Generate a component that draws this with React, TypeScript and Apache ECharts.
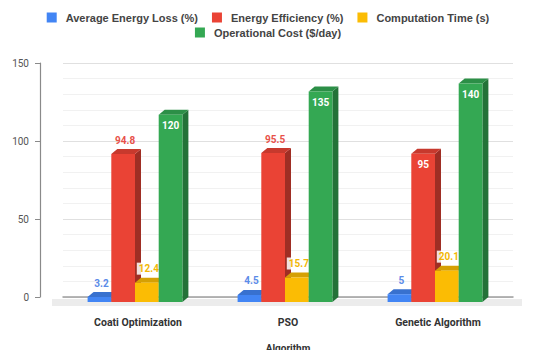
import React, { useEffect, useRef } from "react";
import * as echarts from "echarts";

const categories = ["Coati Optimization", "PSO", "Genetic Algorithm"];
const seriesNames = [
  "Average Energy Loss (%)",
  "Energy Efficiency (%)",
  "Computation Time (s)",
  "Operational Cost ($/day)",
];
const avgEnergyLoss = [3.2, 4.5, 5];
const energyEfficiency = [94.8, 95.5, 95];
const computationTime = [12.4, 15.7, 20.1];
const operationalCost = [120, 135, 140];

const colors = ["#4285F4", "#EA4335", "#FBBC04", "#34A853"];
const labelColors = ["#5b8be8", "#e8514a", "#f2b705", "#ffffff"];
// where each series' value label sits: "above" the bar or "inside" its top
const labelPlacement = [
  ["above", "above", "above"],
  ["above", "above", "inside"],
  ["above", "above", "above"],
  ["inside", "inside", "inside"],
];

const DX = 6; // depth of the 3D extrusion, horizontal
const DY = 5; // depth of the 3D extrusion, vertical
const FONT = "Roboto, 'Noto Sans', sans-serif";
const LEGEND_FONT = "'Liberation Sans', Arial, sans-serif";

function shade(hex: string, f: number) {
  const n = parseInt(hex.slice(1), 16);
  const r = Math.round(((n >> 16) & 255) * f);
  const g = Math.round(((n >> 8) & 255) * f);
  const b = Math.round((n & 255) * f);
  return `rgb(${r},${g},${b})`;
}

function makeSeries(idx: number, values: number[]) {
  const color = colors[idx];
  return {
    type: "custom",
    name: seriesNames[idx],
    itemStyle: { color },
    data: values.map((v, i) => [i, v]),
    z: 2 + idx,
    renderItem: (params: any, api: any) => {
      const ci = api.value(0);
      const v = api.value(1);
      const [cx, yv] = api.coord([ci, v]);
      const y0 = api.coord([ci, 0])[1];
      const bw = api.size([1, 0])[0];
      const barW = bw * 0.158;
      const fx0 = cx - 2 * barW + idx * barW - DX / 2;
      const fx1 = fx0 + barW;
      const fTop = yv + DY;
      const fBot = y0 + DY;
      const isInside = labelPlacement[idx][ci] === "inside";
      const children: any[] = [
        {
          type: "polygon",
          shape: {
            points: [
              [fx1, fTop],
              [fx1 + DX, fTop - DY],
              [fx1 + DX, fBot - DY],
              [fx1, fBot],
            ],
          },
          style: { fill: shade(color, 0.68) },
        },
        {
          type: "polygon",
          shape: {
            points: [
              [fx0, fTop],
              [fx0 + DX, fTop - DY],
              [fx1 + DX, fTop - DY],
              [fx1, fTop],
            ],
          },
          style: { fill: shade(color, 0.85) },
        },
        {
          type: "rect",
          shape: { x: fx0, y: fTop, width: barW, height: Math.max(fBot - fTop, 0) },
          style: { fill: color },
        },
        {
          type: "text",
          z2: 10,
          style: {
            x: (fx0 + fx1) / 2 + (isInside ? 0 : 2),
            y: isInside ? fTop + 11 : fTop - DY - 9,
            text: String(v),
            align: "center",
            verticalAlign: "middle",
            fill: isInside ? "#ffffff" : labelColors[idx],
            font: `bold 10px ${FONT}`,
            backgroundColor: idx === 2 ? "rgba(255,255,255,0.85)" : undefined,
            padding: idx === 2 ? [1, 2] : 0,
          },
        },
      ];
      return { type: "group", children };
    },
  };
}

export default function App() {
  const ref = useRef<HTMLDivElement>(null);

  useEffect(() => {
    if (!ref.current) return;
    const chart = echarts.init(ref.current, null, { renderer: "svg" });
    const legendText = {
      fontSize: 11,
      fontWeight: "bold",
      color: "#444",
      fontFamily: LEGEND_FONT,
      padding: [0, 0, 0, 4],
    };
    const legendBase = {
      left: "center",
      padding: 0,
      itemWidth: 10,
      itemHeight: 10,
      itemGap: 14,
      icon: "rect",
      textStyle: legendText,
    };
    chart.setOption({
      animation: false,
      backgroundColor: "#ffffff",
      legend: [
        { ...legendBase, data: seriesNames.slice(0, 3), top: 12 },
        { ...legendBase, data: seriesNames.slice(3), top: 27 },
      ],
      grid: { left: 63, right: 23, top: 63, bottom: 59 },
      xAxis: {
        type: "category",
        data: categories,
        name: "Algorithm",
        nameLocation: "middle",
        nameGap: 46,
        nameTextStyle: { fontSize: 10, fontWeight: "bold", color: "#333", fontFamily: FONT },
        axisLine: { lineStyle: { color: "#9e9e9e", width: 1.5 } },
        axisTick: { show: false },
        axisLabel: { margin: 20, fontSize: 10.5, fontWeight: "bold", color: "#333", fontFamily: FONT },
      },
      yAxis: {
        type: "value",
        min: 0,
        max: 150,
        interval: 50,
        offset: 23,
        axisLine: { show: true, lineStyle: { color: "#8a8a8a", width: 1.2 } },
        axisTick: { show: true, inside: false, length: 5, lineStyle: { color: "#8a8a8a" } },
        axisLabel: { margin: 11, fontSize: 10, color: "#555", fontFamily: FONT },
        splitLine: { lineStyle: { color: "#e0e0e0" } },
        minorTick: { show: false, splitNumber: 5 },
        minorSplitLine: { show: true, lineStyle: { color: "#f1f1f1" } },
      },
      graphic: [
        {
          type: "rect",
          left: 52,
          top: 299,
          shape: { width: 470, height: 7 },
          style: { fill: "#ececec" },
          z: 0,
        },
      ],
      series: [
        makeSeries(0, avgEnergyLoss),
        makeSeries(1, energyEfficiency),
        makeSeries(2, computationTime),
        makeSeries(3, operationalCost),
      ],
    });
    return () => chart.dispose();
  }, []);

  return <div ref={ref} style={{ width: 536, height: 358, margin: -8 }} />;
}
